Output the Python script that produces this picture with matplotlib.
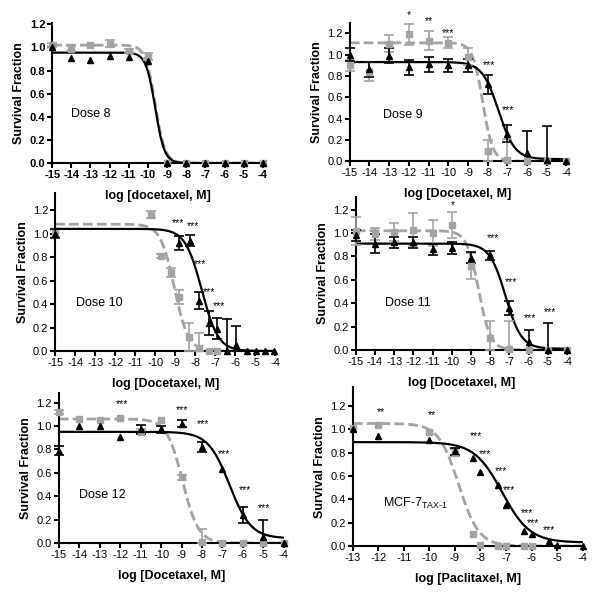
import numpy as np
import matplotlib
matplotlib.use("Agg")
import matplotlib.pyplot as plt

plt.rcParams.update({
    "font.family": ["Liberation Sans", "DejaVu Sans"],
    "font.size": 8,
    "axes.linewidth": 1.5,
    "axes.unicode_minus": False,
    "xtick.major.width": 1.5,
    "ytick.major.width": 1.5,
    "xtick.major.size": 3.5,
    "ytick.major.size": 3.5,
    "mathtext.fontset": "custom",
    "mathtext.rm": "Liberation Sans",
})

BLACK = "#000000"
GRAY = "#a3a3a3"

# ── Data ──────────────────────────────────────────────────────────────────────
# Dose 8
d8_x = [-15, -14, -13, -12, -11, -10, -9, -8, -7, -6, -5, -4]
d8_blk = [1.00, 0.91, 0.89, 0.93, 0.92, 0.88, 0, 0, 0, 0, 0, 0]
d8_blk_err = [0, 0, 0, 0, 0, 0, 0, 0, 0, 0, 0, 0]
d8_gry = [1.02, 0.99, 1.02, 1.03, 0.97, 0.92, 0, 0, 0, 0, 0, 0]
d8_gry_err = [0.02, 0.02, 0, 0.03, 0.02, 0.03, 0, 0, 0, 0, 0, 0]
d8_blk_fit = (0.955, 0.0, -9.62, 1.8)
d8_gry_fit = (1.02, 0.0, -9.62, 1.7)

# Dose 9
d9_x = [-15, -14, -13, -12, -11, -10, -9, -8, -7, -6, -5, -4]
d9_blk = [1.00, 0.86, 0.99, 0.88, 0.91, 0.90, 0.90, 0.72, 0.26, 0.08, 0.01, 0.0]
d9_blk_err = [0.06, 0.07, 0.07, 0.07, 0.07, 0.06, 0.06, 0.09, 0.08, 0.20, 0.32, 0]
d9_gry = [0.90, 0.84, 1.10, 1.19, 1.13, 1.11, 0.98, 0.10, 0.01, 0.0, 0.0, 0.0]
d9_gry_err = [0.05, 0.09, 0.08, 0.10, 0.09, 0.05, 0.08, 0.10, 0.20, 0, 0, 0]
d9_blk_fit = (0.93, 0.02, -7.45, 1.05)
d9_gry_fit = (1.11, 0.0, -8.25, 1.7)
d9_star_x = [-12.0, -11.0, -10.0, -7.93, -6.96]
d9_star_y = [1.37, 1.31, 1.20, 0.90, 0.48]
d9_star_txt = ["*", "**", "***", "***", "***"]

# Dose 10
d10_blk_x = [-15, -8.8, -8.28, -7.8, -7.32, -6.92, -6.4, -5.95, -5.4, -4.95, -4.5, -4.05]
d10_blk = [1.00, 0.92, 0.94, 0.43, 0.24, 0.19, 0.0, 0.05, 0.0, 0.0, 0.0, 0.0]
d10_blk_err = [0.04, 0.06, 0.05, 0.07, 0.10, 0.09, 0.27, 0.16, 0, 0, 0, 0]
d10_gry_x = [-15, -10.2, -9.72, -9.22, -8.8, -8.32, -7.83, -7.33, -6.9]
d10_gry = [1.00, 1.16, 0.81, 0.67, 0.46, 0.12, 0.03, 0.0, 0.0]
d10_gry_err = [0.03, 0.03, 0.02, 0.04, 0.06, 0.12, 0.12, 0, 0]
d10_blk_fit = (1.04, 0.0, -7.68, 1.05)
d10_gry_fit = (1.08, 0.0, -9.05, 1.25)
d10_star_x = [-8.88, -8.13, -7.75, -7.33, -6.83]
d10_star_y = [1.09, 1.06, 0.74, 0.50, 0.38]
d10_star_txt = ["***"] * 5

# Dose 11
d11_x = [-15, -14, -13, -12, -11, -10, -9, -8, -7, -6, -5, -4]
d11_blk = [0.98, 0.91, 0.92, 0.92, 0.86, 0.87, 0.79, 0.81, 0.36, 0.07, 0.0, 0.0]
d11_blk_err = [0.05, 0.08, 0.05, 0.05, 0.05, 0.05, 0.05, 0.04, 0.06, 0.10, 0.23, 0]
d11_gry = [1.02, 0.99, 1.01, 1.03, 1.00, 1.07, 0.72, 0.10, 0.01, 0.0, 0.0, 0.0]
d11_gry_err = [0.12, 0.05, 0.08, 0.14, 0.11, 0.11, 0.11, 0.15, 0.24, 0, 0, 0]
d11_blk_fit = (0.91, 0.01, -7.2, 1.05)
d11_gry_fit = (1.02, 0.0, -8.6, 1.4)
d11_star_x = [-9.95, -7.83, -6.9, -5.95, -4.9]
d11_star_y = [1.24, 0.96, 0.58, 0.27, 0.32]
d11_star_txt = ["*", "***", "***", "***", "***"]

# Dose 12
d12_x = [-15, -14, -13, -12, -11, -10, -9, -8, -7, -6, -5, -4]
d12_blk = [0.79, 1.00, 1.00, 0.91, 0.97, 0.97, 1.02, 0.82, 0.63, 0.24, 0.05, 0.0]
d12_blk_err = [0.04, 0, 0, 0, 0.04, 0.03, 0.03, 0.04, 0, 0.07, 0.15, 0]
d12_gry = [1.12, 1.06, 1.05, 1.07, 0.95, 1.05, 0.56, 0.01, 0.0, 0.0, 0.0, 0.0]
d12_gry_err = [0.02, 0, 0, 0, 0.02, 0, 0.02, 0.11, 0, 0, 0, 0]
d12_blk_fit = (0.95, 0.04, -6.65, 0.83)
d12_gry_fit = (1.06, 0.0, -8.95, 1.12)
d12_star_x = [-11.93, -8.99, -7.97, -6.91, -5.91, -4.98]
d12_star_y = [1.19, 1.14, 1.02, 0.76, 0.45, 0.30]
d12_star_txt = ["***"] * 6

# MCF-7 TAX-1 (paclitaxel)
tax_x = [-13, -12, -10, -9, -8.3, -8.0, -7.3, -7.0, -6.3, -6.0, -5.3, -5.0, -4.0]
tax_blk = [1.00, 0.94, 0.91, 0.81, 0.75, 0.63, 0.52, 0.35, 0.13, 0.10, 0.04, 0.01, 0.0]
tax_blk_err = [0, 0, 0, 0.03, 0, 0, 0, 0, 0, 0, 0, 0, 0]
tax_gry_x = [-13, -12, -10, -9, -8.3, -8.0, -7.3, -7.0, -6.3, -6.0]
tax_gry = [1.01, 1.04, 0.98, 0.80, 0.10, 0.01, 0.0, 0.0, 0.0, 0.0]
tax_gry_err = [0, 0, 0, 0.03, 0, 0, 0, 0, 0, 0]
tax_blk_fit = (0.89, 0.03, -7.15, 0.8)
tax_gry_fit = (1.05, 0.0, -8.85, 1.1)
tax_star_x = [-11.89, -9.92, -8.16, -7.83, -7.2, -6.87, -6.19, -5.93, -5.3]
tax_star_y = [1.15, 1.12, 0.94, 0.79, 0.64, 0.48, 0.28, 0.20, 0.14]
tax_star_txt = ["**", "**"] + ["***"] * 7


def logistic(x, top, bottom, logic50, hill):
    return bottom + (top - bottom) / (1 + 10 ** ((x - logic50) * hill))


def series(ax, x, y, err, color, marker):
    x = np.asarray(x, float)
    y = np.asarray(y, float)
    err = np.asarray(err, float)
    keep = err > 0
    lo = np.minimum(err, y)
    ax.errorbar(x[keep], y[keep], yerr=[lo[keep], err[keep]], fmt="none",
                ecolor=color, elinewidth=1.2, capsize=3.5, capthick=1.2,
                clip_on=False, zorder=3)
    ax.plot(x, y, linestyle="none", marker=marker, color=color, markersize=5,
            clip_on=False, zorder=4)


def panel(rect, xmin, ymax, label, xlabel, gx, gy, gerr, bx, by, berr,
          gfit, bfit, stars=None, bold_ticks=False):
    ax = fig.add_axes(rect)
    ax.patch.set_visible(False)
    xs = np.linspace(xmin, -4, 400)
    ax.plot(xs, logistic(xs, *gfit), color=GRAY, lw=2.0, dashes=(3.5, 1.5), zorder=2)
    ax.plot(xs, logistic(xs, *bfit), color=BLACK, lw=1.6, zorder=2)
    series(ax, gx, gy, gerr, GRAY, "s")
    series(ax, bx, by, berr, BLACK, "^")
    if stars:
        for sx, sy, st in zip(*stars):
            ax.text(sx, sy, st, ha="center", va="center", fontsize=7.5, clip_on=False)
    ax.set_xlim(xmin, -4)
    ax.set_ylim(0, ymax)
    ax.set_xticks(np.arange(xmin, -3))
    ax.set_yticks(np.arange(0, 1.21, 0.2))
    ax.set_yticklabels([f"{v:.1f}" for v in np.arange(0, 1.21, 0.2)])
    for s in ("top", "right"):
        ax.spines[s].set_visible(False)
    ax.tick_params(labelsize=8, pad=1.5)
    if bold_ticks:
        for t in ax.get_xticklabels() + ax.get_yticklabels():
            t.set_fontweight("bold")
    ax.set_xlabel(xlabel, fontweight="bold", fontsize=9, labelpad=7)
    ax.set_ylabel("Survival Fraction", fontweight="bold", fontsize=9, labelpad=3)
    ax.text(label[0], label[1], label[2], ha="left", va="center", fontsize=9)
    return ax


fig = plt.figure(figsize=(6.0, 5.93), dpi=100)

panel([0.087, 0.725, 0.351, 0.236], -15, 1.21, (-14.0, 0.42, "Dose 8"),
      "log [docetaxel, M]", d8_x, d8_gry, d8_gry_err, d8_x, d8_blk, d8_blk_err,
      d8_gry_fit, d8_blk_fit, bold_ticks=True)
panel([0.583, 0.728, 0.361, 0.234], -15, 1.30, (-13.3, 0.43, "Dose 9"),
      "log [Docetaxel, M]", d9_x, d9_gry, d9_gry_err, d9_x, d9_blk, d9_blk_err,
      d9_gry_fit, d9_blk_fit, stars=(d9_star_x, d9_star_y, d9_star_txt))
panel([0.092, 0.408, 0.367, 0.2665], -15, 1.345, (-13.95, 0.41, "Dose 10"),
      "log [Docetaxel, M]", d10_gry_x, d10_gry, d10_gry_err, d10_blk_x, d10_blk,
      d10_blk_err, d10_gry_fit, d10_blk_fit,
      stars=(d10_star_x, d10_star_y, d10_star_txt))
panel([0.593, 0.410, 0.352, 0.258], -15, 1.31, (-13.5, 0.40, "Dose 11"),
      "log [Docetaxel, M]", d11_x, d11_gry, d11_gry_err, d11_x, d11_blk, d11_blk_err,
      d11_gry_fit, d11_blk_fit, stars=(d11_star_x, d11_star_y, d11_star_txt))
panel([0.098, 0.0843, 0.375, 0.2536], -15, 1.285, (-14.0, 0.41, "Dose 12"),
      "log [Docetaxel, M]", d12_x, d12_gry, d12_gry_err, d12_x, d12_blk, d12_blk_err,
      d12_gry_fit, d12_blk_fit, stars=(d12_star_x, d12_star_y, d12_star_txt))
panel([0.588, 0.0793, 0.383, 0.2676], -13, 1.36,
      (-11.8, 0.365, r"MCF-7$_{\mathrm{TAX\text{-}1}}$"),
      "log [Paclitaxel, M]", tax_gry_x, tax_gry, tax_gry_err, tax_x, tax_blk,
      tax_blk_err, tax_gry_fit, tax_blk_fit,
      stars=(tax_star_x, tax_star_y, tax_star_txt))

fig.savefig("out.png", dpi=100)
